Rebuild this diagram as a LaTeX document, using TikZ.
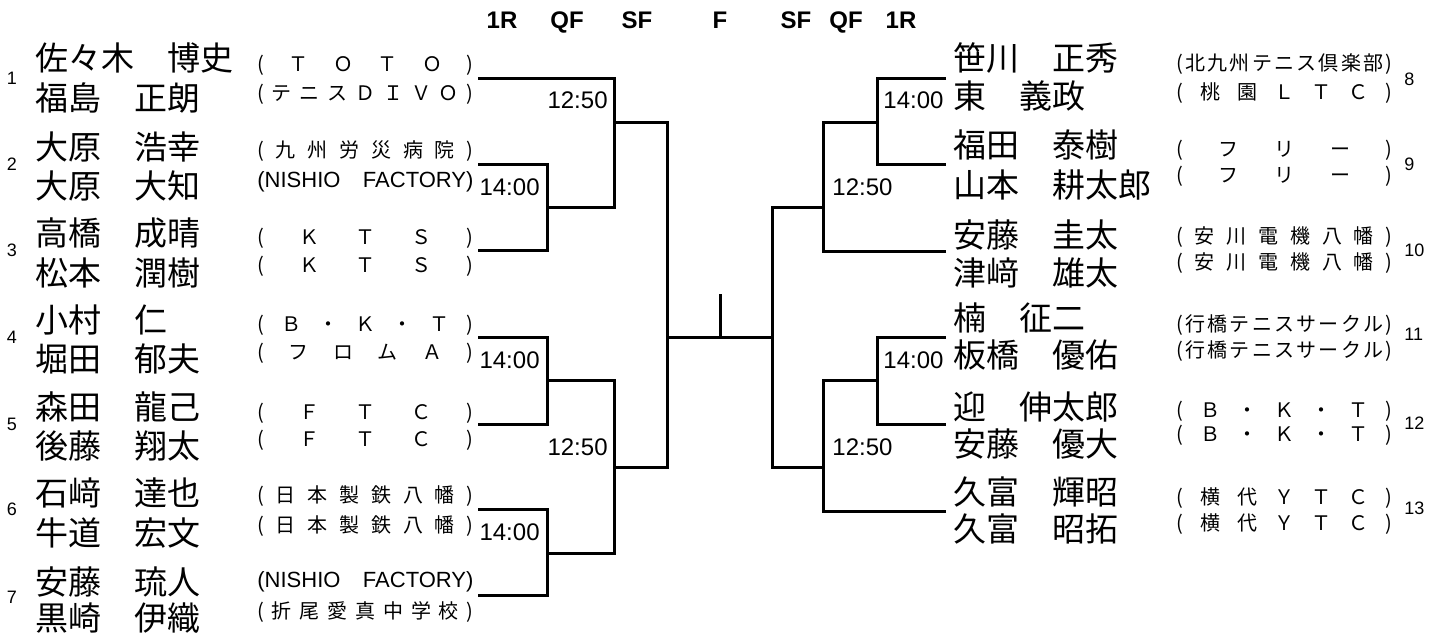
\documentclass[tikz,border=0pt]{standalone}
\usepackage{fontspec}
\setmainfont{Liberation Sans}
\newfontfamily\jp{Noto Sans CJK JP}

% lettres reparties sur toute la largeur de la colonne
\newcommand{\club}[1]{\makebox[108pt][s]{\clubA#1\relax}}
\def\clubA#1{#1\clubB}
\def\clubB#1{\ifx\relax#1\else\hfill#1\expandafter\clubB\fi}

\tikzset{
  joueur/.style={anchor=west, inner sep=0pt, font=\jp\fontsize{16.5}{18}\selectfont, text height=13.5pt, text depth=1pt},
  equipe/.style={anchor=west, inner sep=0pt, font=\jp\fontsize{10}{12}\selectfont, text height=8.2pt, text depth=0.6pt},
  latin/.style={equipe, font=\fontsize{11}{13}\selectfont, text height=7.9pt, text depth=0pt},
  numero/.style={inner sep=0pt, font=\fontsize{9}{10}\selectfont, text height=6.4pt, text depth=0pt},
  heure/.style={inner sep=0pt, font=\fontsize{12}{14}\selectfont, text height=8.6pt, text depth=0pt},
  tour/.style={inner sep=0pt, font=\bfseries\fontsize{12}{14}\selectfont, text height=8.6pt, text depth=0pt},
  trait/.style={line width=1.5pt, line join=miter}
}

\begin{document}
\begin{tikzpicture}[x=0.5pt, y=-0.5pt]
\path[use as bounding box, fill=white] (0,0) rectangle (1444,637);

%%% tours
\node[tour] (r1g) at (502,20) {1R};
\node[tour] (r2g) at (567,20) {QF};
\node[tour] (r3g) at (637,20) {SF};
\node[tour] (rf) at (720,20) {F};
\node[tour] (r3d) at (796,20) {SF};
\node[tour] (r2d) at (846,20) {QF};
\node[tour] (r1d) at (901,20) {1R};

%%% tableau gauche

    % paire 1
\node[numero] (s1) at (12,78) {1};
\node[joueur] (j1a) at (35,58) {佐々木　博史};
\node[joueur] (j1b) at (35,98) {福島　正朗};
\node[equipe] (e1a) at (257,64) {\club{(ＴＯＴＯ)}};
\node[equipe] (e1b) at (257,93) {\club{(テニスＤＩＶＯ)}};

    % paire 2
\node[numero] (s2) at (12,164) {2};
\node[joueur] (j2a) at (35,147) {大原　浩幸};
\node[joueur] (j2b) at (35,186) {大原　大知};
\node[equipe] (e2a) at (257,150) {\club{(九州労災病院)}};
\node[latin] (e2b) at (257,180) {\makebox[108pt][s]{(NISHIO\hfill FACTORY)}};

    % paire 3
\node[numero] (s3) at (12,250) {3};
\node[joueur] (j3a) at (35,233) {高橋　成晴};
\node[joueur] (j3b) at (35,273) {松本　潤樹};
\node[equipe] (e3a) at (257,237) {\club{(ＫＴＳ)}};
\node[equipe] (e3b) at (257,265) {\club{(ＫＴＳ)}};

    % paire 4
\node[numero] (s4) at (12,337) {4};
\node[joueur] (j4a) at (35,320) {小村　仁};
\node[joueur] (j4b) at (35,359) {堀田　郁夫};
\node[equipe] (e4a) at (257,324) {\club{(Ｂ・Ｋ・Ｔ)}};
\node[equipe] (e4b) at (257,352) {\club{(フロムＡ)}};

    % paire 5
\node[numero] (s5) at (12,424) {5};
\node[joueur] (j5a) at (35,407) {森田　龍己};
\node[joueur] (j5b) at (35,446) {後藤　翔太};
\node[equipe] (e5a) at (257,412) {\club{(ＦＴＣ)}};
\node[equipe] (e5b) at (257,439) {\club{(ＦＴＣ)}};

    % paire 6
\node[numero] (s6) at (12,509) {6};
\node[joueur] (j6a) at (35,493) {石﨑　達也};
\node[joueur] (j6b) at (35,533) {牛道　宏文};
\node[equipe] (e6a) at (257,495) {\club{(日本製鉄八幡)}};
\node[equipe] (e6b) at (257,525) {\club{(日本製鉄八幡)}};

    % paire 7
\node[numero] (s7) at (12,597) {7};
\node[joueur] (j7a) at (35,582) {安藤　琉人};
\node[joueur] (j7b) at (35,618) {黒崎　伊織};
\node[latin] (e7a) at (257,580) {\makebox[108pt][s]{(NISHIO\hfill FACTORY)}};
\node[equipe] (e7b) at (257,611) {\club{(折尾愛真中学校)}};

%%% tableau droit

    % paire 8
\node[joueur] (j8a) at (953,58) {笹川　正秀};
\node[joueur] (j8b) at (953,96) {東　義政};
\node[equipe] (e8a) at (1176,63) {\club{(北九州テニス倶楽部)}};
\node[equipe] (e8b) at (1176,92) {\club{(桃園ＬＴＣ)}};
\node[numero, anchor=west] (s8) at (1404,79) {8};

    % paire 9
\node[joueur] (j9a) at (953,145) {福田　泰樹};
\node[joueur] (j9b) at (953,185) {山本　耕太郎};
\node[equipe] (e9a) at (1176,149) {\club{(フリー)}};
\node[equipe] (e9b) at (1176,175) {\club{(フリー)}};
\node[numero, anchor=west] (s9) at (1404,164) {9};

    % paire 10
\node[joueur] (j10a) at (953,235) {安藤　圭太};
\node[joueur] (j10b) at (953,273) {津﨑　雄太};
\node[equipe] (e10a) at (1176,236) {\club{(安川電機八幡)}};
\node[equipe] (e10b) at (1176,262) {\club{(安川電機八幡)}};
\node[numero, anchor=west] (s10) at (1404,250) {10};

    % paire 11
\node[joueur] (j11a) at (953,318) {楠　征二};
\node[joueur] (j11b) at (953,355) {板橋　優佑};
\node[equipe] (e11a) at (1176,324) {\club{(行橋テニスサークル)}};
\node[equipe] (e11b) at (1176,350) {\club{(行橋テニスサークル)}};
\node[numero, anchor=west] (s11) at (1404,334) {11};

    % paire 12
\node[joueur] (j12a) at (953,407) {迎　伸太郎};
\node[joueur] (j12b) at (953,444) {安藤　優大};
\node[equipe] (e12a) at (1176,410) {\club{(Ｂ・Ｋ・Ｔ)}};
\node[equipe] (e12b) at (1176,434) {\club{(Ｂ・Ｋ・Ｔ)}};
\node[numero, anchor=west] (s12) at (1404,423) {12};

    % paire 13
\node[joueur] (j13a) at (953,492) {久富　輝昭};
\node[joueur] (j13b) at (953,529) {久富　昭拓};
\node[equipe] (e13a) at (1176,497) {\club{(横代ＹＴＣ)}};
\node[equipe] (e13b) at (1176,523) {\club{(横代ＹＴＣ)}};
\node[numero, anchor=west] (s13) at (1404,508) {13};

%%% lignes

% points du tableau gauche
\coordinate (L1) at (478,78);
\coordinate (L2) at (478,164);
\coordinate (L3) at (478,250);
\coordinate (L4) at (478,337);
\coordinate (L5) at (478,424);
\coordinate (L6) at (478,509);
\coordinate (L7) at (478,595);
\coordinate (m23) at (547,207);
\coordinate (m45) at (547,380);
\coordinate (m67) at (547,553);
\coordinate (q1) at (614,122);
\coordinate (q2) at (614,467);
\coordinate (sg) at (667,337);

% points du tableau droit
\coordinate (R8) at (946,78);
\coordinate (R9) at (946,164);
\coordinate (R10) at (946,251);
\coordinate (R11) at (946,337);
\coordinate (R12) at (946,424);
\coordinate (R13) at (946,511);
\coordinate (m89) at (877,122);
\coordinate (m1112) at (877,380);
\coordinate (q3) at (823,207);
\coordinate (q4) at (823,467);
\coordinate (sd) at (772,337);

% finale
\coordinate (fin) at (720,294);

\draw[trait] (L2) -| (m23) |- (L3);
\draw[trait] (L1) -| (q1) |- (m23);
\draw[trait] (L4) -| (m45) |- (L5);
\draw[trait] (L6) -| (m67) |- (L7);
\draw[trait] (m45) -| (q2) |- (m67);
\draw[trait] (q1) -| (sg) |- (q2);

\draw[trait] (R8) -| (m89) |- (R9);
\draw[trait] (R10) -| (q3) |- (m89);
\draw[trait] (R11) -| (m1112) |- (R12);
\draw[trait] (R13) -| (q4) |- (m1112);
\draw[trait] (q3) -| (sd) |- (q4);

\draw[trait] (sg) -- (sd);
\draw[trait] (fin) -- (fin |- sg);

%%% heures
\node[heure, anchor=east] (h1) at (608,100) {12:50};
\node[heure, anchor=east] (h2) at (540,187) {14:00};
\node[heure, anchor=east] (h3) at (540,360) {14:00};
\node[heure, anchor=east] (h4) at (608,447) {12:50};
\node[heure, anchor=east] (h5) at (540,532) {14:00};
\node[heure, anchor=west] (h6) at (883,100) {14:00};
\node[heure, anchor=west] (h7) at (832,187) {12:50};
\node[heure, anchor=west] (h8) at (883,360) {14:00};
\node[heure, anchor=west] (h9) at (832,447) {12:50};
\end{tikzpicture}
\end{document}
